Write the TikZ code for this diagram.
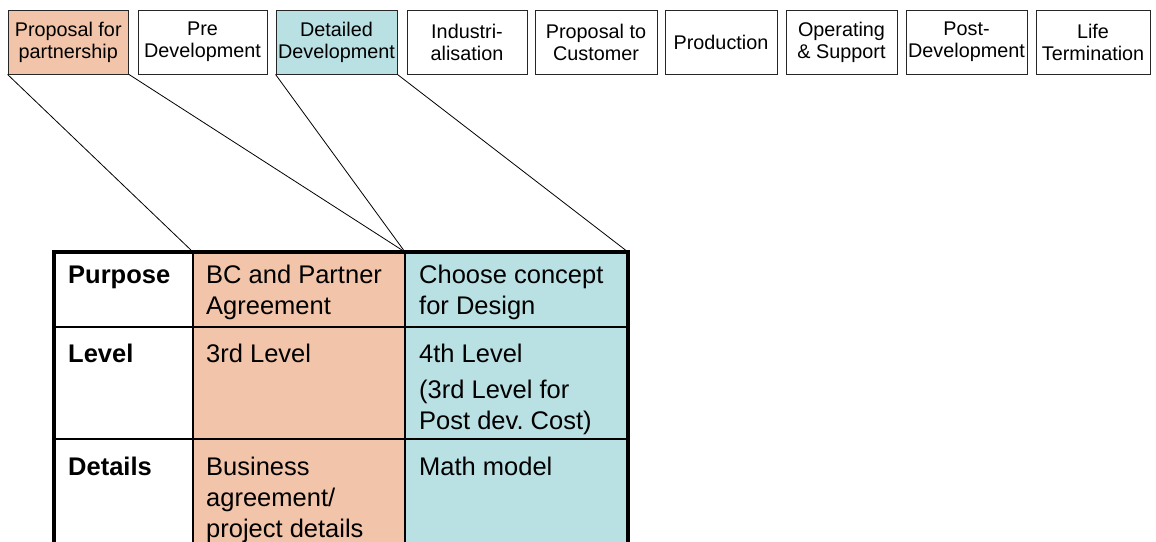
\documentclass[tikz,border=0pt]{standalone}
\usepackage{fontspec}
\setmainfont{Liberation Sans}
\frenchspacing
\definecolor{salmon}{RGB}{242,196,169}
\definecolor{teal}{RGB}{185,224,227}
\begin{document}
\begin{tikzpicture}[x=1pt,y=-1pt,
  phase/.style={draw=black!85,line width=0.9pt,inner sep=0pt,minimum height=64pt,align=center,font=\fontsize{19.8}{22}\selectfont},
  link/.style={draw=black,line width=0.8pt},
  cell/.style={anchor=base west,inner sep=0pt,align=left,font=\fontsize{25.5}{31}\selectfont},
  head/.style={cell,font=\fontsize{25.5}{31}\selectfont\bfseries}]
\useasboundingbox (0,0) rectangle (1156,541);
\clip (0,0) rectangle (1156,541);
% phase boxes
\node[phase,fill=salmon,minimum width=120.5pt] (b1) at (68.25,42) {Proposal for\\partnership};
\node[phase,minimum width=129pt] (b2) at (202.5,42) {Pre\\Development};
\node[phase,fill=teal,minimum width=121pt] (b3) at (336.5,42) {Detailed\\Development};
\node[phase,minimum width=120pt] (b4) at (467,42) {Industri-\\alisation};
\node[phase,minimum width=122pt] (b5) at (596,42) {Proposal to\\Customer};
\node[phase,minimum width=112pt] (b6) at (721,42) {Production};
\node[phase,minimum width=111pt] (b7) at (841.5,42) {Operating\\\& Support};
\node[phase,minimum width=121pt] (b8) at (966.5,42) {Post-\\Development};
\node[phase,minimum width=114pt] (b9) at (1093,42) {Life\\Termination};
% table
\coordinate (tl) at (54,252);
\coordinate (c1) at (193,252);
\coordinate (c2) at (405,252);
\coordinate (tr) at (628,252);
\fill[salmon] (193,252) rectangle (405,580);
\fill[teal] (405,252) rectangle (628,580);
\draw[line width=1.6pt] (193,252) -- (193,580) (405,252) -- (405,580)
  (54,327) -- (628,327) (54,439) -- (628,439);
\draw[line width=3.5pt] (54,580) -- (tl) -- (tr) -- (628,580);
% links
\draw[link] (b1.south west) -- (c1);
\draw[link] (b1.south east) -- (c2);
\draw[link] (b3.south west) -- (c2);
\draw[link] (b3.south east) -- (tr);
% text (anchored at the baseline of the last line)
\node[head] (h1) at (68,283) {Purpose};
\node[head] (h2) at (68,362) {Level};
\node[head] (h3) at (68,475) {Details};
\node[cell] (p1) at (206,314) {BC and Partner\\Agreement};
\node[cell] (p2) at (206,362) {3rd Level};
\node[cell] (p3) at (206,537) {Business\\agreement/\\project details};
\node[cell] (d1) at (419,314) {Choose concept\\for Design};
\node[cell] (d2) at (419,429) {4th Level\\[5pt](3rd Level for\\Post dev. Cost)};
\node[cell] (d3) at (419,475) {Math model};
\end{tikzpicture}
\end{document}
